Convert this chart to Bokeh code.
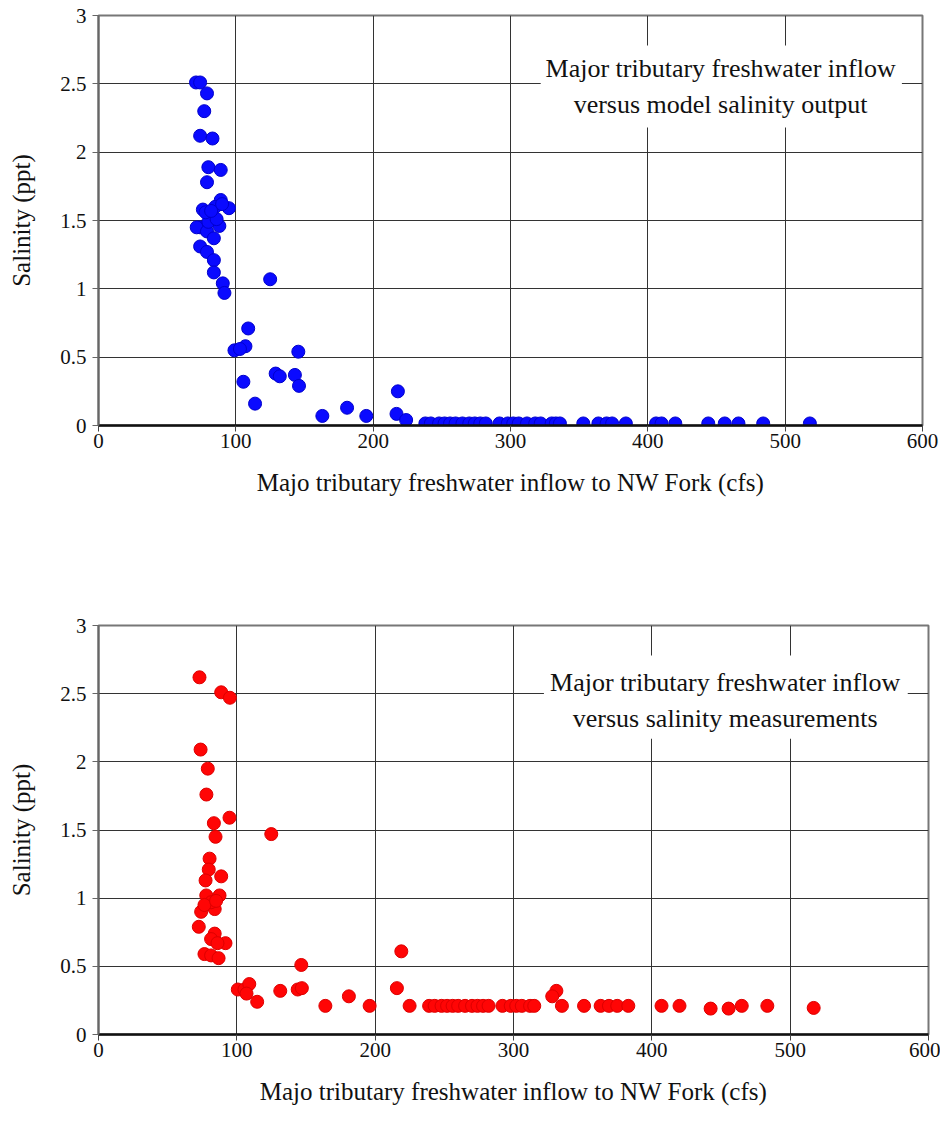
from bokeh.plotting import figure
from bokeh.layouts import column
from bokeh.models import FixedTicker, NumeralTickFormatter, Label, BoxAnnotation
from bokeh.embed import file_html
from bokeh.resources import INLINE

# ---- data: model salinity output (top) ----
model_flow = [71, 74, 79, 77, 74, 83, 80, 89, 79,
              76, 89, 95, 85, 74, 71.5, 79, 84, 88, 83, 80, 86, 78, 90, 82,
              74, 79, 84, 84, 90.5, 91.7,
              125, 109, 107, 99, 103, 145.5, 105.5, 129, 132, 143, 146, 114,
              163, 181, 195, 218, 217, 224,
              238, 242, 248, 252, 256, 260, 265, 270, 274, 278, 282, 292, 298,
              302, 306, 312, 318, 322, 330, 333, 336, 353, 364, 370, 374, 384,
              406, 410, 420, 444, 456, 466, 484, 518]
model_sal = [2.51, 2.51, 2.43, 2.30, 2.12, 2.10, 1.89, 1.87, 1.78,
             1.58, 1.65, 1.59, 1.60, 1.45, 1.45, 1.42, 1.37, 1.46, 1.53, 1.49, 1.51, 1.56, 1.62, 1.57,
             1.31, 1.27, 1.21, 1.12, 1.04, 0.97,
             1.07, 0.71, 0.58, 0.55, 0.56, 0.54, 0.32, 0.38, 0.36, 0.37, 0.29, 0.16,
             0.07, 0.13, 0.07, 0.25, 0.085, 0.04,
             0.015, 0.015, 0.015, 0.015, 0.015, 0.015, 0.015, 0.015, 0.015, 0.015, 0.015, 0.015, 0.015,
             0.015, 0.015, 0.015, 0.015, 0.015, 0.015, 0.015, 0.015, 0.015, 0.015, 0.015, 0.015, 0.015,
             0.015, 0.015, 0.015, 0.015, 0.015, 0.015, 0.015, 0.015]

# ---- data: measured salinity (bottom) ----
meas_flow = [73, 88.7, 95, 73.8, 79, 78, 94.7, 83.4, 84.6, 124.9, 80.3, 79.7, 88.7, 77.4,
             77.9, 87.5, 74.2, 84, 81.4, 76.6, 85, 72.5, 84, 81.4, 91.8, 86, 76.6, 81.4, 86.8,
             146.6, 100.7, 105.5, 109, 107, 114.7, 131.4, 144, 147, 164, 181, 196,
             218.9, 215.7, 224.9,
             239, 243, 248, 252, 256, 260, 265, 270, 274, 278, 282, 292, 298, 302, 306, 312, 315,
             331, 328, 335, 351, 363, 369, 375, 383, 407, 420, 442.5, 455.5, 465, 483.5, 517]
meas_sal = [2.62, 2.51, 2.47, 2.09, 1.95, 1.76, 1.59, 1.55, 1.45, 1.47, 1.29, 1.21, 1.16, 1.13,
            1.02, 1.02, 0.90, 0.92, 0.97, 0.95, 0.98, 0.79, 0.74, 0.70, 0.67, 0.67, 0.59, 0.58, 0.56,
            0.51, 0.33, 0.33, 0.37, 0.30, 0.24, 0.32, 0.33, 0.34, 0.21, 0.28, 0.21,
            0.61, 0.34, 0.21,
            0.21, 0.21, 0.21, 0.21, 0.21, 0.21, 0.21, 0.21, 0.21, 0.21, 0.21, 0.21, 0.21, 0.21, 0.21, 0.21, 0.21,
            0.32, 0.28, 0.21, 0.21, 0.21, 0.21, 0.21, 0.21, 0.21, 0.21, 0.19, 0.19, 0.21, 0.21, 0.195]

x_ticks = [0, 100, 200, 300, 400, 500, 600]
y_ticks = [0, 0.5, 1, 1.5, 2, 2.5, 3]
x_title = "Majo tributary freshwater inflow to NW Fork (cfs)"
y_title = "Salinity (ppt)"
note_top = ["Major tributary freshwater inflow", "versus model salinity output"]
note_bot = ["Major tributary freshwater inflow", "versus salinity measurements"]

FONT = "Liberation Serif"


def make_fig(xs, ys, color, edge, note, fl, fr, ft, fb, fw, fh, box_top, box_bot, l1y, l2y):
    p = figure(frame_width=fw, frame_height=fh, min_border_left=fl, min_border_right=fr,
               min_border_top=ft, min_border_bottom=fb,
               x_range=(0, 600), y_range=(0, 3), output_backend="svg",
               toolbar_location=None, background_fill_color="white",
               border_fill_color="white")
    p.outline_line_color = "#777777"
    p.outline_line_width = 2
    for g in (p.xgrid, p.ygrid):
        g.grid_line_color = "#333333"
        g.grid_line_width = 1
    p.xaxis.ticker = FixedTicker(ticks=x_ticks)
    p.yaxis.ticker = FixedTicker(ticks=y_ticks)
    p.yaxis.formatter = NumeralTickFormatter(format="0.[0]")
    for ax in (p.xaxis, p.yaxis):
        ax.major_label_text_font = FONT
        ax.major_label_text_font_size = "21px"
        ax.major_label_text_color = "#111111"
        ax.axis_label_text_font = FONT
        ax.axis_label_text_font_size = "25px"
        ax.axis_label_text_font_style = "normal"
        ax.axis_label_text_color = "#111111"
        ax.minor_tick_line_color = None
        ax.major_tick_out = 6
        ax.major_tick_in = 0
    p.yaxis.axis_line_color = "#666666"
    p.yaxis.axis_line_width = 2
    p.yaxis.major_tick_line_color = "#666666"
    p.xaxis.axis_line_color = "#111111"
    p.xaxis.axis_line_width = 2.5
    p.xaxis.major_tick_line_color = "#444444"
    p.xaxis.axis_label = x_title
    p.yaxis.axis_label = y_title
    p.xaxis.major_label_standoff = 2
    p.xaxis.axis_label_standoff = 18
    p.yaxis.major_label_standoff = 6
    p.yaxis.axis_label_standoff = 22

    p.add_layout(BoxAnnotation(left=322, right=585, top=box_top, bottom=box_bot,
                               fill_color="white", fill_alpha=1.0, line_color=None,
                               level="underlay"))
    p.add_layout(Label(x=453, y=l1y, text=note[0], text_align="center", text_baseline="middle",
                       text_font=FONT, text_font_size="26px", text_color="#111111"))
    p.add_layout(Label(x=453, y=l2y, text=note[1], text_align="center", text_baseline="middle",
                       text_font=FONT, text_font_size="26px", text_color="#111111"))

    p.scatter(xs, ys, size=13, fill_color=color, line_color=edge, line_width=1)
    return p


p1 = make_fig(model_flow, model_sal, "#0a0aff", "#0000cc", note_top,
              98, 18, 15, 175, 824, 410, 2.78, 2.18, 2.61, 2.35)
p2 = make_fig(meas_flow, meas_sal, "#ff0505", "#dd0000", note_bot,
              94, 16, 25, 91, 830, 409, 2.78, 2.17, 2.58, 2.32)

layout = column(p1, p2, spacing=0)
open("out.html", "w").write(file_html(layout, INLINE))
